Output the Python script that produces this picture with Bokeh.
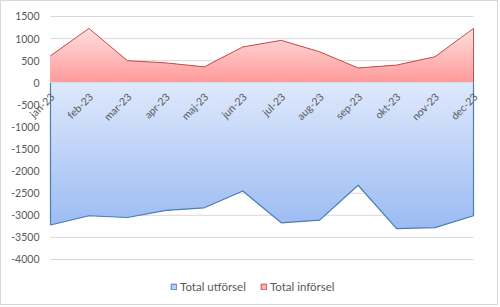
import math
from bokeh.plotting import figure
from bokeh.models import (Range1d, Span, LabelSet, ColumnDataSource, Legend, LegendItem)
from bokeh.core.properties import value
from bokeh.embed import file_html
from bokeh.resources import INLINE

months = ["jan-23", "feb-23", "mar-23", "apr-23", "maj-23", "jun-23",
          "jul-23", "aug-23", "sep-23", "okt-23", "nov-23", "dec-23"]
utforsel = [-3220, -3010, -3050, -2890, -2830, -2450, -3170, -3110, -2320, -3300, -3280, -3010]
inforsel = [610, 1230, 500, 450, 360, 810, 960, 700, 335, 400, 590, 1230]
y_ticks = [-4000, -3500, -3000, -2500, -2000, -1500, -1000, -500, 0, 500, 1000, 1500]
y_tick_labels = [str(t) for t in y_ticks]

FONT = "Lato"
TXT = "#595959"
GRID = "#D9D9D9"

idx = list(range(len(months)))

# The frame fills the whole chart; ranges are padded so the data area sits at
# x 50..473 and y 16..259 (like the original), leaving room for labels/legend.
p = figure(width=498, height=305, output_backend="svg", toolbar_location=None,
           x_range=Range1d(-1.274, 11.676), y_range=Range1d(-5064, 1839.5),
           x_axis_type=None, y_axis_type=None, min_border=0)
p.outline_line_color = None
p.background_fill_color = "white"
p.border_fill_color = "white"
p.styles = {"border": "1px solid #D9D9D9"}
p.grid.grid_line_color = None

# horizontal gridlines spanning the category extent
p.segment(x0=[idx[0]] * len(y_ticks), x1=[idx[-1]] * len(y_ticks), y0=y_ticks, y1=y_ticks,
          line_color=GRID, line_width=1)

# y tick labels
ysrc = ColumnDataSource(dict(x=[idx[0]] * len(y_ticks), y=y_ticks, t=y_tick_labels))
p.add_layout(LabelSet(x="x", y="y", text="t", source=ysrc, text_align="right",
                      text_baseline="middle", x_offset=-11, y_offset=0,
                      text_font=value(FONT), text_font_size=value("10.5px"), text_color=TXT))


def clip_line(xs, ys, level, upper):
    ox, oy = [], []
    for i in range(len(xs)):
        if i > 0:
            y0, y1 = ys[i - 1], ys[i]
            if (y0 - level) * (y1 - level) < 0:
                t = (level - y0) / (y1 - y0)
                ox.append(xs[i - 1] + t * (xs[i] - xs[i - 1]))
                oy.append(level)
        ox.append(xs[i])
        oy.append(min(ys[i], level) if upper else max(ys[i], level))
    return ox, oy


def mix(c1, c2, t):
    a = [int(c1[i:i + 2], 16) for i in (1, 3, 5)]
    b = [int(c2[i:i + 2], 16) for i in (1, 3, 5)]
    return "#%02x%02x%02x" % tuple(round(a[k] + (b[k] - a[k]) * t) for k in range(3))


N = 40
rmax = max(inforsel)
for k in range(N, 0, -1):
    lvl = rmax * k / N
    xs, ys = clip_line(idx, inforsel, lvl, True)
    p.varea(x=xs, y1=[0] * len(xs), y2=ys, fill_color=mix("#FF9999", "#FFDEDE", k / N))
bmin = min(utforsel)
for k in range(N, 0, -1):
    lvl = bmin * k / N
    xs, ys = clip_line(idx, utforsel, lvl, False)
    p.varea(x=xs, y1=ys, y2=[0] * len(xs), fill_color=mix("#DFE9FC", "#9CBCF3", k / N))

# category axis line at 0
p.segment(x0=[idx[0]], x1=[idx[-1]], y0=[0], y1=[0], line_color=GRID, line_width=1)

p.line(x=idx + [idx[-1]], y=inforsel + [0], line_color="#C0504D", line_width=1)
p.line(x=[idx[0]] + idx + [idx[-1]], y=[0] + utforsel + [0], line_color="#4A7EBB", line_width=1.2)

src = ColumnDataSource(dict(x=idx, y=[0] * len(idx), t=months))
p.add_layout(LabelSet(x="x", y="y", text="t", source=src, angle=math.pi / 4,
                      text_align="right", text_baseline="middle", x_offset=2, y_offset=-12,
                      text_font=value(FONT), text_font_size=value("10.5px"), text_color=TXT))

nan = float("nan")
r_ut = p.quad(left=[nan], right=[nan], top=[nan], bottom=[nan],
              fill_color="#B9CFF6", line_color="#4A7EBB")
r_in = p.quad(left=[nan], right=[nan], top=[nan], bottom=[nan],
              fill_color="#FFB3B3", line_color="#C0504D")
leg = Legend(items=[LegendItem(label="Total utförsel", renderers=[r_ut]),
                    LegendItem(label="Total införsel", renderers=[r_in])],
             orientation="horizontal", location=(169, 13), glyph_width=7, glyph_height=7,
             label_standoff=3, spacing=14, padding=0, margin=0,
             border_line_color=None, background_fill_alpha=0,
             label_text_font=FONT, label_text_font_size="11.5px", label_text_color=TXT)
p.add_layout(leg, "center")

open("out.html", "w").write(file_html(p, INLINE))
